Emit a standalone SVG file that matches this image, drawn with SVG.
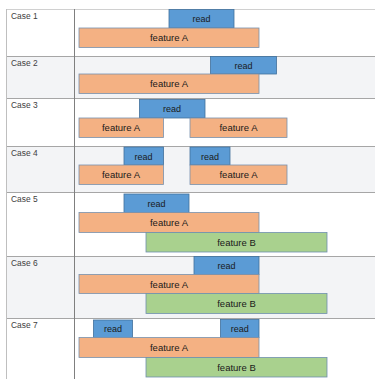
<svg xmlns="http://www.w3.org/2000/svg" width="375" height="379" viewBox="0 0 375 379">
<style>
.bg{fill:#ffffff}
.alt{fill:#f3f4f6}
.hl{stroke:#a6a6a6;stroke-width:1}
.vl{stroke:#7f7f7f;stroke-width:1}
.case{font-family:"Liberation Sans",Arial,sans-serif;font-size:8.4px;fill:#404040}
.read{fill:#5b9bd5;stroke:#41719c;stroke-width:0.8}
.fa{fill:#f4b183;stroke:#7891ad;stroke-width:0.8}
.fb{fill:#a9d18e;stroke:#6f8fae;stroke-width:0.8}
.lbl{font-family:"Liberation Sans",Arial,sans-serif;font-size:9px;fill:#1a1a1a;text-anchor:middle}
.lblf{font-family:"Liberation Sans",Arial,sans-serif;font-size:9.5px;fill:#1a1a1a;text-anchor:middle}
</style>
<rect x="0" y="0" width="375" height="379" fill="#ffffff"/>
<g id="table">
<rect class="alt" x="6" y="56" width="369" height="42"/>
<rect class="alt" x="6" y="146" width="369" height="46"/>
<rect class="alt" x="6" y="256" width="369" height="62"/>
<line x1="6" y1="9.5" x2="375" y2="9.5" stroke="#d0d0d0"/>
<line class="hl" x1="6" y1="56.5" x2="375" y2="56.5"/>
<line class="hl" x1="6" y1="98.5" x2="375" y2="98.5"/>
<line class="hl" x1="6" y1="146.5" x2="375" y2="146.5"/>
<line class="hl" x1="6" y1="192.5" x2="375" y2="192.5"/>
<line class="hl" x1="6" y1="256.5" x2="375" y2="256.5"/>
<line class="hl" x1="6" y1="318.5" x2="375" y2="318.5"/>
<line x1="6.5" y1="9" x2="6.5" y2="379" stroke="#bfbfbf"/>
<line class="vl" x1="74.5" y1="9" x2="74.5" y2="379"/>
<text class="case" x="11" y="18.5">Case 1</text>
<text class="case" x="11" y="65.5">Case 2</text>
<text class="case" x="11" y="108">Case 3</text>
<text class="case" x="11" y="156">Case 4</text>
<text class="case" x="11" y="202">Case 5</text>
<text class="case" x="11" y="266">Case 6</text>
<text class="case" x="11" y="328">Case 7</text>
</g>
<g id="connectors"></g>
<g id="c1-read"><rect class="read" x="169" y="9.5" width="65" height="18.5"/><text class="lbl" x="201.5" y="22">read</text></g>
<g id="c1-featA"><rect class="fa" x="79" y="28" width="180" height="19.5"/><text class="lblf" x="169" y="41">feature A</text></g>
<g id="c2-read"><rect class="read" x="210.5" y="56.5" width="66" height="17.5"/><text class="lbl" x="243.5" y="68.5">read</text></g>
<g id="c2-featA"><rect class="fa" x="79" y="74" width="180" height="19.5"/><text class="lblf" x="169" y="87">feature A</text></g>
<g id="c3-read"><rect class="read" x="139.5" y="99.5" width="65.5" height="18.5"/><text class="lbl" x="172" y="112">read</text></g>
<g id="c3-featA1"><rect class="fa" x="79" y="118" width="84.5" height="19.5"/><text class="lblf" x="121" y="131">feature A</text></g>
<g id="c3-featA2"><rect class="fa" x="190" y="118" width="97" height="19.5"/><text class="lblf" x="238.5" y="131">feature A</text></g>
<g id="c4-read1"><rect class="read" x="124" y="147" width="39.5" height="18"/><text class="lbl" x="143.5" y="159.5">read</text></g>
<g id="c4-read2"><rect class="read" x="190" y="147" width="40" height="18"/><text class="lbl" x="210" y="159.5">read</text></g>
<g id="c4-featA1"><rect class="fa" x="79" y="165" width="84.5" height="19.5"/><text class="lblf" x="121" y="178">feature A</text></g>
<g id="c4-featA2"><rect class="fa" x="190" y="165" width="97" height="19.5"/><text class="lblf" x="238.5" y="178">feature A</text></g>
<g id="c5-read"><rect class="read" x="124" y="194" width="65" height="18.5"/><text class="lbl" x="156.5" y="206.5">read</text></g>
<g id="c5-featA"><rect class="fa" x="79" y="212.5" width="180" height="20"/><text class="lblf" x="169" y="225.5">feature A</text></g>
<g id="c5-featB"><rect class="fb" x="146" y="232.5" width="181" height="19.5"/><text class="lblf" x="236.5" y="245.5">feature B</text></g>
<g id="c6-read"><rect class="read" x="194" y="256.5" width="65" height="18"/><text class="lbl" x="226.5" y="269">read</text></g>
<g id="c6-featA"><rect class="fa" x="79" y="274.5" width="180" height="19"/><text class="lblf" x="169" y="287.5">feature A</text></g>
<g id="c6-featB"><rect class="fb" x="146" y="293.5" width="181" height="20"/><text class="lblf" x="236.5" y="306.5">feature B</text></g>
<g id="c7-read1"><rect class="read" x="93.5" y="320" width="39" height="17.5"/><text class="lbl" x="113" y="332">read</text></g>
<g id="c7-read2"><rect class="read" x="220.5" y="319.5" width="38.5" height="18"/><text class="lbl" x="239.75" y="332">read</text></g>
<g id="c7-featA"><rect class="fa" x="79" y="337.5" width="180" height="20"/><text class="lblf" x="169" y="350.5">feature A</text></g>
<g id="c7-featB"><rect class="fb" x="146" y="357.5" width="181" height="19.5"/><text class="lblf" x="236.5" y="370.5">feature B</text></g>
</svg>
